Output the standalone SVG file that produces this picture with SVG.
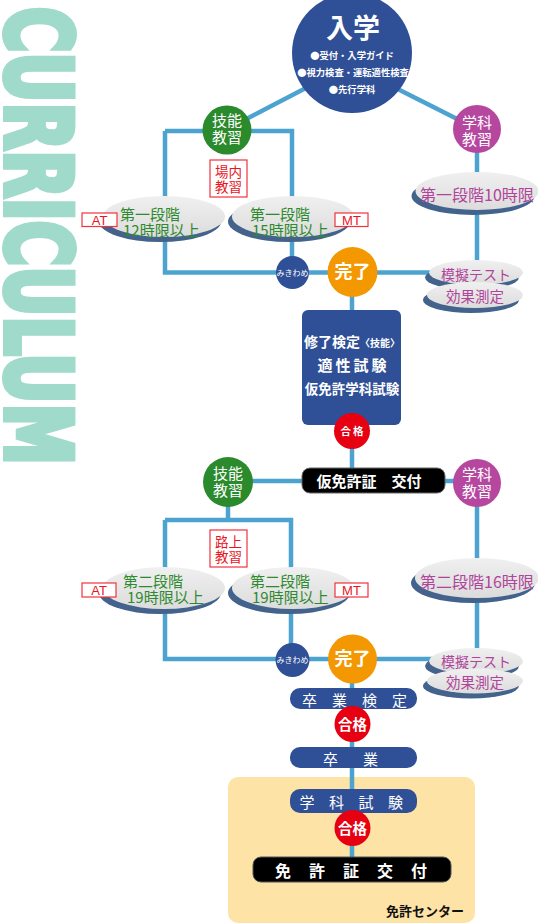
<svg xmlns="http://www.w3.org/2000/svg" width="538" height="923" viewBox="0 0 538 923">
<defs>
<style>
.ln{stroke:#4da3cf;stroke-width:4.5;fill:none}
.jp{font-family:"Noto Sans CJK JP","Noto Sans",sans-serif}
.lat{font-family:"Liberation Sans",Arial,sans-serif}
.w{fill:#fff}
.b{font-weight:bold}
.m{text-anchor:middle}
.sh{fill:#43638d}
.el{fill:url(#eg)}
.gt{fill:#2e8a2e;font-size:15px}
.pt{fill:#b0449a}
.tag{fill:#fff;stroke:#f0323c;stroke-width:1.2}
.rt{fill:#e8141e}
.bar{fill:#2f5097}
.grn{fill:#2a8a2c}
.pur{fill:#b6479f}
.org{fill:#f39800}
.red{fill:#e60012}
.nav{fill:#2f4f96}
</style>
<linearGradient id="eg" x1="0" y1="0" x2="0" y2="1"><stop offset="0" stop-color="#f0f0f0"/><stop offset="1" stop-color="#dcdcdc"/></linearGradient>
</defs>

<text transform="translate(6,7) rotate(90)" font-family="'DejaVu Sans','Liberation Sans',sans-serif" font-weight="bold" font-stretch="condensed" font-size="91" fill="#9fdacb" stroke="#9fdacb" stroke-width="6" stroke-linejoin="miter" textLength="458" lengthAdjust="spacingAndGlyphs">CURRICULUM</text>

<rect id="center-bg" x="228" y="777" width="247" height="146" rx="10" fill="#fde3a6"/>

<g id="connectors" class="ln">
<line x1="352" y1="64" x2="227" y2="129"/>
<line x1="352" y1="66" x2="477" y2="129"/>
<path d="M165 131 H292 V272.5"/>
<path d="M165 131 V272.5 H477"/>
<path d="M477 129 V297"/>
<path d="M352 272 V481"/>
<path d="M228 481 H477"/>
<path d="M228 481 V520"/>
<path d="M165 520 H291 V659"/>
<path d="M165 520 V659 H477"/>
<path d="M477 481 V684"/>
<path d="M352 659 V870"/>
</g>

<g id="nyugaku">
<circle cx="352" cy="53" r="60" class="nav"/>
<text x="353" y="38" class="jp w b m" font-size="27">入学</text>
<text class="jp w b m" font-size="9.3"><tspan x="352" y="59">●受付・入学ガイド</tspan><tspan x="353" y="76">●視力検査・運転適性検査</tspan><tspan x="352" y="93">●先行学科</tspan></text>
</g>

<g id="gino1">
<circle cx="227" cy="130" r="24.5" class="grn"/>
<text class="jp w m" font-size="15"><tspan x="227" y="126">技能</tspan><tspan x="227" y="143">教習</tspan></text>
</g>
<g id="gakka1">
<circle cx="477" cy="129" r="24" class="pur"/>
<text class="jp w m" font-size="15"><tspan x="477" y="128">学科</tspan><tspan x="477" y="145">教習</tspan></text>
</g>

<g id="jonai">
<rect x="210" y="160" width="37" height="37" class="tag"/>
<text class="jp rt m" font-size="13.5"><tspan x="228.5" y="177">場内</tspan><tspan x="228.5" y="192">教習</tspan></text>
</g>

<g id="stage1-at">
<ellipse cx="160" cy="221.5" rx="61" ry="20.5" class="sh"/>
<ellipse cx="164" cy="216.5" rx="61" ry="20.5" class="el"/>
<text class="jp gt"><tspan x="120" y="219.5">第一段階</tspan><tspan x="123" y="235.5">12時限以上</tspan></text>
<rect x="82" y="213" width="35" height="13.5" class="tag"/>
<text x="99.5" y="224.5" class="lat rt m" font-size="13">AT</text>
</g>
<g id="stage1-mt">
<ellipse cx="289" cy="221.5" rx="61" ry="20.5" class="sh"/>
<ellipse cx="293" cy="216.5" rx="61" ry="20.5" class="el"/>
<text class="jp gt"><tspan x="250" y="219.5">第一段階</tspan><tspan x="252" y="235.5">15時限以上</tspan></text>
<rect x="335" y="213" width="33" height="13.5" class="tag"/>
<text x="351.5" y="224.5" class="lat rt m" font-size="13">MT</text>
</g>

<g id="gakka1-stage">
<ellipse cx="473" cy="196" rx="61.5" ry="19" class="sh"/>
<ellipse cx="477" cy="191" rx="61.5" ry="19" class="el"/>
<text x="477" y="201" class="jp pt m" font-size="16">第一段階10時限</text>
</g>

<g id="mogi1">
<ellipse cx="472" cy="277.5" rx="47" ry="12.5" class="sh"/>
<ellipse cx="476" cy="272.5" rx="47" ry="12.5" class="el"/>
<ellipse cx="471" cy="300" rx="48" ry="13" class="sh"/>
<ellipse cx="475" cy="295" rx="48" ry="13" class="el"/>
<text class="jp pt m"><tspan x="476" y="280" font-size="14">模擬テスト</tspan><tspan x="475" y="302" font-size="14.5">効果測定</tspan></text>
</g>

<g id="mikiwame1">
<circle cx="292.5" cy="272.5" r="16.5" class="nav"/>
<text x="292.5" y="275.5" class="jp w m" font-size="8">みきわめ</text>
</g>
<g id="kanryo1">
<circle cx="352.5" cy="272" r="25" class="org"/>
<text x="352.5" y="278" class="jp w b m" font-size="18">完了</text>
</g>

<g id="kentei">
<rect x="302" y="310" width="99" height="115" rx="6" class="bar"/>
<text class="jp w b m"><tspan x="352" y="347" font-size="14">修了検定<tspan font-size="10">〈技能〉</tspan></tspan><tspan x="353.5" y="371" font-size="15" letter-spacing="3">適性試験</tspan><tspan x="352" y="394" font-size="13.5">仮免許学科試験</tspan></text>
</g>
<g id="gokaku1">
<circle cx="352" cy="431" r="18" class="red"/>
<text x="353" y="435" class="jp w b m" font-size="10.5" letter-spacing="2">合格</text>
</g>

<g id="karimen">
<rect x="302" y="468" width="143" height="25" rx="8" fill="#000" stroke="#666" stroke-width="1"/>
<text x="369" y="487" class="jp w b m" font-size="15">仮免許証　交付</text>
</g>

<g id="gino2">
<circle cx="228" cy="482" r="25" class="grn"/>
<text class="jp w m" font-size="15"><tspan x="228" y="479">技能</tspan><tspan x="228" y="496">教習</tspan></text>
</g>
<g id="gakka2">
<circle cx="477" cy="483" r="24" class="pur"/>
<text class="jp w m" font-size="15"><tspan x="477" y="480">学科</tspan><tspan x="477" y="497">教習</tspan></text>
</g>

<g id="rojo">
<rect x="210" y="530" width="37" height="37" class="tag"/>
<text class="jp rt m" font-size="13.5"><tspan x="228.5" y="547">路上</tspan><tspan x="228.5" y="562">教習</tspan></text>
</g>

<g id="stage2-at">
<ellipse cx="160" cy="593" rx="61" ry="21" class="sh"/>
<ellipse cx="164" cy="588" rx="61" ry="21" class="el"/>
<text class="jp gt"><tspan x="123" y="587">第二段階</tspan><tspan x="127" y="603">19時限以上</tspan></text>
<rect x="82" y="583" width="34" height="14" class="tag"/>
<text x="99" y="595" class="lat rt m" font-size="13">AT</text>
</g>
<g id="stage2-mt">
<ellipse cx="289" cy="593" rx="61" ry="21" class="sh"/>
<ellipse cx="293" cy="588" rx="61" ry="21" class="el"/>
<text class="jp gt"><tspan x="250" y="587">第二段階</tspan><tspan x="252" y="603">19時限以上</tspan></text>
<rect x="335" y="583" width="33" height="14" class="tag"/>
<text x="351.5" y="595" class="lat rt m" font-size="13">MT</text>
</g>

<g id="gakka2-stage">
<ellipse cx="473" cy="583" rx="62" ry="20" class="sh"/>
<ellipse cx="477" cy="578" rx="62" ry="20" class="el"/>
<text x="477" y="588" class="jp pt m" font-size="16">第二段階16時限</text>
</g>

<g id="mogi2">
<ellipse cx="472" cy="666" rx="47" ry="13" class="sh"/>
<ellipse cx="476" cy="661" rx="47" ry="13" class="el"/>
<ellipse cx="471" cy="686" rx="48" ry="12.5" class="sh"/>
<ellipse cx="475" cy="681" rx="48" ry="12.5" class="el"/>
<text class="jp pt m"><tspan x="476" y="667" font-size="14">模擬テスト</tspan><tspan x="475" y="688" font-size="14.5">効果測定</tspan></text>
</g>

<g id="mikiwame2">
<circle cx="292.5" cy="660" r="17" class="nav"/>
<text x="292.5" y="663" class="jp w m" font-size="8">みきわめ</text>
</g>
<g id="kanryo2">
<circle cx="352.5" cy="659" r="24.5" class="org"/>
<text x="352.5" y="665" class="jp w b m" font-size="18">完了</text>
</g>

<g id="sotsugyo-kentei">
<rect x="290" y="688" width="127" height="21" rx="10" class="bar"/>
<text x="362" y="705.5" class="jp w m" font-size="15" letter-spacing="15">卒業検定</text>
</g>
<g id="gokaku2">
<circle cx="352.5" cy="724" r="18" class="red"/>
<text x="352.5" y="729.5" class="jp w b m" font-size="14.5">合格</text>
</g>
<g id="sotsugyo">
<rect x="290" y="747" width="127" height="21" rx="10" class="bar"/>
<text x="363" y="764.5" class="jp w m" font-size="15" letter-spacing="25">卒業</text>
</g>
<g id="gakka-shiken">
<rect x="290" y="789" width="127" height="24" rx="10" class="bar"/>
<text x="358.5" y="807.5" class="jp w m" font-size="15" letter-spacing="14.5">学科試験</text>
</g>
<g id="gokaku3">
<circle cx="352.5" cy="828" r="18" class="red"/>
<text x="352.5" y="833.5" class="jp w b m" font-size="14.5">合格</text>
</g>
<g id="menkyo">
<rect x="253" y="857" width="198" height="25" rx="8" fill="#000" stroke="#555" stroke-width="1"/>
<text x="360" y="876.5" class="jp w b m" font-size="16" letter-spacing="18">免許証交付</text>
</g>
<text id="center-label" x="386" y="916" class="jp b" font-size="13" fill="#111">免許センター</text>
</svg>
